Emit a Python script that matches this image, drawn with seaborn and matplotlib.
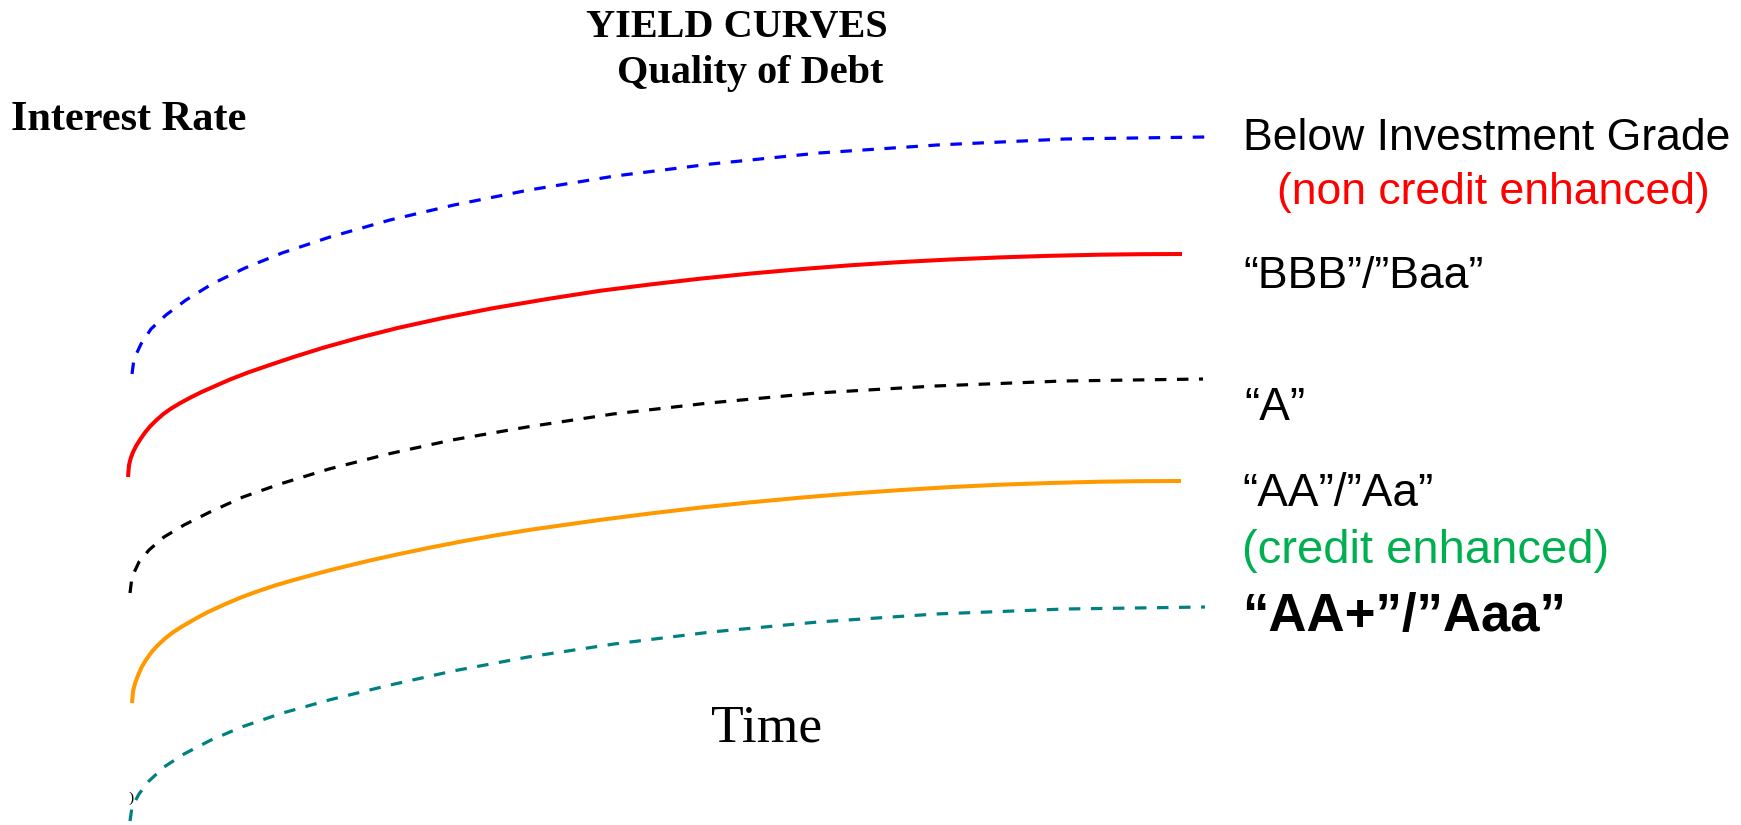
import numpy as np
import pandas as pd
import matplotlib
matplotlib.use("Agg")
import matplotlib.pyplot as plt
import seaborn as sns

# values (time / rate in the chart's own units)
time_below = [132, 134, 141, 151, 166, 186, 212, 245, 282, 330, 390, 454, 529, 615, 711, 819, 937, 1065, 1205]
rate_below = [451, 466, 481, 496, 510, 525, 541, 557, 572, 588, 605, 620, 635, 649, 661, 672, 680, 686, 688]

time_bbb = [128, 129, 130, 131, 133, 136, 140, 145, 150, 156, 163, 171, 180, 190, 201, 214, 230, 248,
            268, 293, 323, 358, 398, 443, 493, 548, 600, 650, 700, 750, 800, 850, 900, 950, 1000,
            1050, 1100, 1140, 1182]
rate_bbb = [348, 359.7, 364.2, 367.6, 372.8, 378.9, 385.3, 392.5, 398.5, 404.5, 410.7, 416.4, 421.8,
            427.2, 432.7, 438.5, 445.5, 452.5, 459.4, 467.8, 477.2, 487.0, 497.1, 507.0, 516.8, 526.1,
            534.2, 540.5, 546.3, 551.4, 555.8, 559.7, 562.9, 565.5, 567.6, 569.2, 570.3, 570.8, 571]

time_a = [130, 132, 139, 149, 164, 184, 210, 243, 280, 329, 388, 452, 527, 613, 709, 817, 935, 1063, 1203]
rate_a = [232, 248, 263, 275, 288, 300, 313, 328, 341, 356, 371, 385, 398, 411, 422, 432, 439, 444, 446]

time_aa = [132, 133, 134, 135, 137, 139, 142, 145, 148, 152, 158, 165, 173, 182, 195, 208, 225, 242,
           258, 275, 293, 312, 328, 345, 372, 400, 430, 463, 496, 530, 600, 650, 700, 750, 800, 850,
           900, 950, 1000, 1050, 1100, 1140, 1181]
rate_aa = [122, 133.3, 137.9, 141.5, 147, 152, 158.5, 163.5, 168, 173.5, 180, 186.5, 192.7, 198.5,
           206, 213, 220.8, 228, 233.8, 239.5, 244.8, 250, 254.3, 258.5, 265, 271.15, 277.4, 283.8,
           289.7, 295.2, 305.1, 311.5, 317.4, 322.6, 327.3, 331.4, 334.9, 337.9, 340.3, 342, 343.3,
           343.8, 344]

time_aaa = [130, 132, 139, 149, 164, 184, 211, 243, 281, 329, 388, 453, 528, 614, 711, 818, 936, 1065, 1205]
rate_aaa = [4, 18, 31, 44, 58, 71, 85, 98.5, 111.5, 125, 139.5, 154, 168, 181, 193, 203, 211, 216, 218]

curve_names = ["Below Investment Grade", "BBB/Baa", "A", "AA/Aa", "AA+/Aaa"]
curve_times = [time_below, time_bbb, time_a, time_aa, time_aaa]
curve_rates = [rate_below, rate_bbb, rate_a, rate_aa, rate_aaa]

label_texts = ["Below Investment Grade", "(non credit enhanced)", "\u201cBBB\u201d/\u201dBaa\u201d",
               "\u201cA\u201d", "\u201cAA\u201d/\u201dAa\u201d", "(credit enhanced)", "\u201cAA+\u201d/\u201dAaa\u201d"]

sns.set_theme(style="white")
plt.rcParams["font.family"] = ["Liberation Sans", "DejaVu Sans"]
plt.rcParams["text.color"] = "black"

colors = ["#0000FF", "#FF0000", "#000000", "#FF9900", "#008080"]
widths = [2.3, 2.9, 2.3, 2.9, 2.3]
dashed = [True, False, True, False, True]

fig = plt.figure(figsize=(17.41, 8.25), dpi=100)
ax = fig.add_axes([0, 0, 1, 1])

for name, t, r, c, lw, d in zip(curve_names, curve_times, curve_rates, colors, widths, dashed):
    df = pd.DataFrame({"time": t, "rate": r})
    sns.lineplot(data=df, x="time", y="rate", color=c, linewidth=lw,
                 estimator=None, sort=False, ax=ax)
    ln = ax.lines[-1]
    if d:
        ln.set_dashes((3.6, 3.3))
    ln.set_solid_capstyle("butt")
    ln.set_solid_joinstyle("round")

ax.set_xlim(0, 1741)
ax.set_ylim(0, 825)
ax.axis("off")

serif = ["Liberation Serif", "DejaVu Serif"]
ax.text(737, 825 - 37, "YIELD CURVES", family=serif, weight="bold", fontsize=29,
        ha="center", va="baseline")
ax.text(750, 825 - 83, "Quality of Debt", family=serif, weight="bold", fontsize=29,
        ha="center", va="baseline")
ax.text(11, 825 - 130, "Interest Rate", family=serif, weight="bold", fontsize=30.5,
        ha="left", va="baseline")
ax.text(767, 825 - 741, "Time", family=serif, fontsize=38.5, ha="center", va="baseline")
ax.text(131, 825 - 798, ")", family=serif, fontsize=11, ha="center", va="center")

ax.text(1243, 825 - 150, label_texts[0], fontsize=32, ha="left", va="baseline")
ax.text(1493, 825 - 204, label_texts[1], fontsize=32, color="#FF0000", ha="center", va="baseline")
ax.text(1243, 825 - 288, label_texts[2], fontsize=32, ha="left", va="baseline")
ax.text(1244, 825 - 420, label_texts[3], fontsize=33, ha="left", va="baseline")
ax.text(1242, 825 - 506, label_texts[4], fontsize=33, ha="left", va="baseline")
ax.text(1242, 825 - 563, label_texts[5], fontsize=34, color="#00B050", ha="left", va="baseline")
ax.text(1242, 825 - 631, label_texts[6], fontsize=38, weight="bold", ha="left", va="baseline")

fig.savefig("out.png", dpi=100, facecolor="white")
